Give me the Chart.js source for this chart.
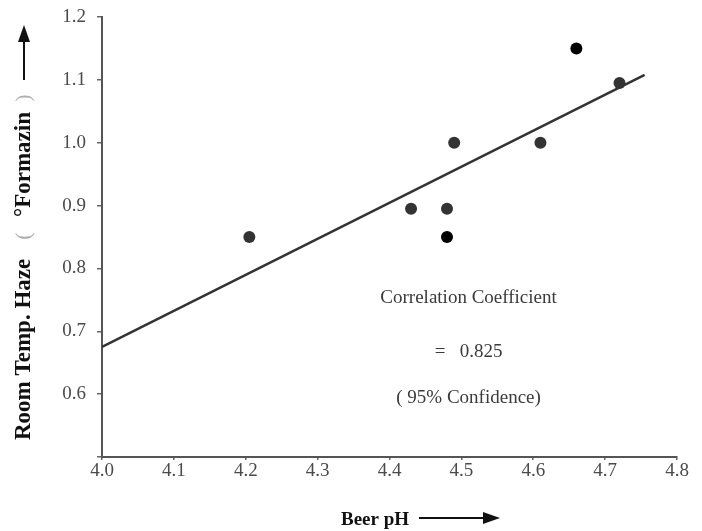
<!DOCTYPE html>
<html>
<head>
<meta charset="utf-8">
<script src="https://cdn.jsdelivr.net/npm/chart.js@4/dist/chart.umd.min.js"></script>
<style>
  html, body { margin: 0; padding: 0; background: #fff; }
  #wrap { width: 702px; height: 531px; }
</style>
</head>
<body>
<div id="wrap"><canvas id="c" width="702" height="531"></canvas></div>
<script>
// Beer pH against room-temperature haze
const beerPH = [4.205, 4.43, 4.48, 4.48, 4.49, 4.61, 4.66, 4.72];
const roomHaze = [0.85, 0.895, 0.895, 0.85, 1.00, 1.00, 1.15, 1.095];
// fitted regression line end points
const fitPH = [4.0, 4.755];
const fitHaze = [0.675, 1.108];
// axis tick values
const xTicks = [4.0, 4.1, 4.2, 4.3, 4.4, 4.5, 4.6, 4.7, 4.8];
const yTicks = [0.6, 0.7, 0.8, 0.9, 1.0, 1.1, 1.2];
// annotation lines
const noteLines = ['Correlation Coefficient', '=   0.825', '( 95% Confidence)'];
const noteY = [0.753, 0.667, 0.594];
const noteX = 4.51;

const darkerPoints = new Set([3, 6]);

const SERIF = '"Liberation Serif", "DejaVu Serif", serif';

function arrow(ctx, x1, y1, x2, y2, head, half) {
  const ang = Math.atan2(y2 - y1, x2 - x1);
  const bx = x2 - head * Math.cos(ang), by = y2 - head * Math.sin(ang);
  ctx.beginPath();
  ctx.moveTo(x1, y1);
  ctx.lineTo(bx, by);
  ctx.stroke();
  ctx.beginPath();
  ctx.moveTo(x2, y2);
  ctx.lineTo(bx + half * Math.sin(ang), by - half * Math.cos(ang));
  ctx.lineTo(bx - half * Math.sin(ang), by + half * Math.cos(ang));
  ctx.closePath();
  ctx.fill();
}

const titlesPlugin = {
  id: 'titles',
  afterDraw(chart) {
    const ctx = chart.ctx;
    const xs = chart.scales.x, ys = chart.scales.y;
    ctx.save();
    // annotation block
    ctx.fillStyle = '#3a3a3a';
    ctx.font = '19px ' + SERIF;
    ctx.textAlign = 'center';
    ctx.textBaseline = 'middle';
    noteLines.forEach((t, i) => {
      ctx.fillText(t, xs.getPixelForValue(noteX), ys.getPixelForValue(noteY[i]));
    });

    // x axis title with arrow
    ctx.textAlign = 'left';
    ctx.textBaseline = 'alphabetic';
    ctx.fillStyle = '#111';
    ctx.font = 'bold 19px ' + SERIF;
    ctx.fillText('Beer pH', 341, 525);
    ctx.strokeStyle = '#111';
    ctx.lineWidth = 2;
    arrow(ctx, 419, 518, 500, 518, 17, 6);

    // y axis title, rotated, with arrow
    ctx.translate(24, 0);
    ctx.rotate(-Math.PI / 2);
    ctx.textBaseline = 'middle';
    ctx.textAlign = 'left';
    ctx.font = 'bold 23px ' + SERIF;
    ctx.fillStyle = '#111';
    ctx.fillText('Room Temp. Haze', -440, 0);
    ctx.fillText('°Formazin', -217, 0);
    ctx.font = '22px ' + SERIF;
    ctx.fillStyle = '#b0b0b0';
    ctx.textAlign = 'center';
    ctx.fillText('(', -236, 0);
    ctx.fillText(')', -98, 0);
    ctx.fillStyle = '#111';
    ctx.strokeStyle = '#111';
    arrow(ctx, -80, 0, -25, 0, 17, 6);
    ctx.restore();
  }
};

new Chart(document.getElementById('c'), {
  data: {
    datasets: [
      {
        type: 'line',
        data: fitPH.map((x, i) => ({ x, y: fitHaze[i] })),
        borderColor: '#333',
        borderWidth: 2.5,
        pointRadius: 0,
        fill: false,
        order: 2
      },
      {
        type: 'scatter',
        data: beerPH.map((x, i) => ({ x, y: roomHaze[i] })),
        pointRadius: 6,
        pointBorderWidth: 0,
        pointBackgroundColor: c => darkerPoints.has(c.dataIndex) ? '#000' : '#333',
        order: 1
      }
    ]
  },
  options: {
    responsive: false,
    animation: false,
    events: [],
    layout: { padding: { left: 0, right: 25, top: 17, bottom: 0 } },
    plugins: { legend: { display: false }, tooltip: { enabled: false } },
    scales: {
      x: {
        type: 'linear',
        min: 4.0,
        max: 4.8,
        afterBuildTicks: s => { s.ticks = xTicks.map(v => ({ value: v })); },
        afterFit: s => { s.height = 74; },
        ticks: {
          callback: v => Number(v).toFixed(1),
          color: '#4a4a4a',
          font: { family: SERIF, size: 19 },
          padding: 0,
          maxRotation: 0
        },
        grid: { drawOnChartArea: false, drawTicks: true, tickLength: 3, color: '#666', lineWidth: 1.5 },
        border: { display: true, color: '#555', width: 2 }
      },
      y: {
        type: 'linear',
        min: 0.5,
        max: 1.2,
        afterBuildTicks: s => { s.ticks = [0.5].concat(yTicks).map(v => ({ value: v })); },
        afterFit: s => { s.width = 102; s.paddingTop = 0; s.paddingBottom = 0; },
        ticks: {
          callback: v => (Math.abs(v - 0.5) < 1e-6 ? '' : Number(v).toFixed(1)),
          color: '#4a4a4a',
          font: { family: SERIF, size: 19, lineHeight: 1 },
          padding: 11
        },
        grid: { drawOnChartArea: false, drawTicks: true, tickLength: 5, color: '#666', lineWidth: 1.5 },
        border: { display: true, color: '#555', width: 2 }
      }
    }
  },
  plugins: [titlesPlugin]
});
</script>
</body>
</html>
